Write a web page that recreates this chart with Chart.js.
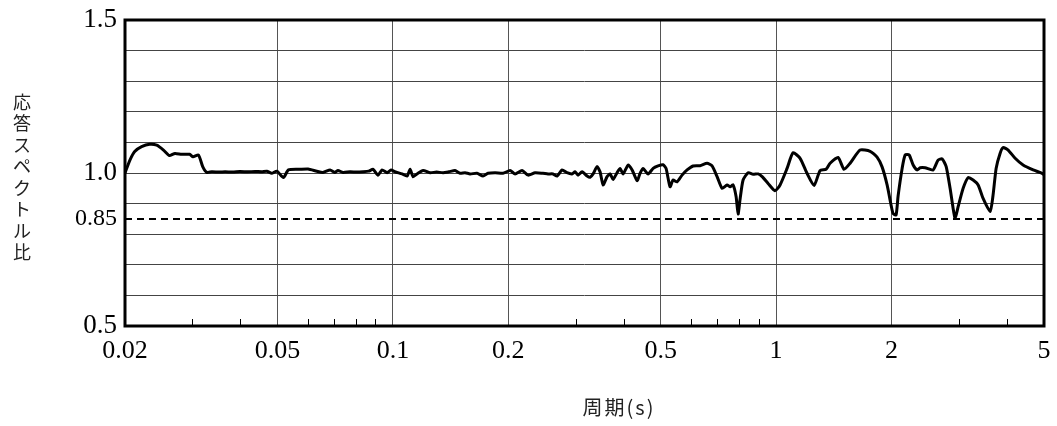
<!DOCTYPE html>
<html>
<head>
<meta charset="utf-8">
<script src="https://cdn.jsdelivr.net/npm/chart.js@4.4.1/dist/chart.umd.min.js"></script>
<style>
  html, body { margin: 0; padding: 0; background: #fff; }
  #wrap { width: 1057px; height: 426px; }
</style>
</head>
<body>
<div id="wrap"><canvas id="ratio-chart" width="1057" height="426"></canvas></div>
<script>
// period (s) and response spectrum ratio
const periods = [0.0200,0.0206,0.0212,0.0221,0.0232,0.0242,0.0252,0.0261,0.0270,0.0281,0.0295,0.0301,0.0311,0.0319,0.0327,0.0337,0.0352,0.0365,0.0382,0.0399,0.0418,0.0437,0.0455,0.0469,0.0483,0.0498,0.0518,0.0534,0.0572,0.0601,0.0633,0.0657,0.0686,0.0705,0.0719,0.0741,0.0773,0.0805,0.0836,0.0865,0.0888,0.0915,0.0937,0.0966,0.0989,0.1013,0.1057,0.1089,0.1109,0.1129,0.1156,0.1199,0.1250,0.1300,0.1352,0.1400,0.1453,0.1497,0.1543,0.1590,0.1658,0.1719,0.1771,0.1848,0.1938,0.2022,0.2084,0.2173,0.2254,0.2350,0.2464,0.2540,0.2618,0.2682,0.2764,0.2846,0.2934,0.2988,0.3042,0.3116,0.3212,0.3270,0.3330,0.3410,0.3472,0.3536,0.3622,0.3688,0.3754,0.3846,0.3916,0.3988,0.4110,0.4210,0.4338,0.4416,0.4496,0.4634,0.4776,0.4920,0.5070,0.5162,0.5286,0.5384,0.5514,0.5682,0.5858,0.6072,0.6332,0.6604,0.6806,0.7014,0.7228,0.7448,0.7584,0.7722,0.7862,0.7958,0.8054,0.8200,0.8452,0.8710,0.8976,0.9194,0.9528,0.9936,1.024,1.068,1.107,1.155,1.204,1.256,1.302,1.350,1.383,1.451,1.504,1.560,1.656,1.759,1.834,1.890,1.948,1.995,2.019,2.056,2.081,2.132,2.171,2.224,2.278,2.333,2.376,2.448,2.568,2.646,2.712,2.778,2.844,2.896,2.932,2.984,3.076,3.170,3.266,3.366,3.468,3.618,3.682,3.750,3.840,3.910,4.030,4.204,4.410,4.684,4.944,5.000];
const ratios = [1.000,1.042,1.070,1.086,1.094,1.091,1.075,1.057,1.064,1.061,1.061,1.053,1.059,1.021,1.002,1.004,1.003,1.004,1.003,1.005,1.004,1.005,1.004,1.006,0.999,1.006,0.985,1.010,1.012,1.013,1.006,1.002,1.010,1.002,1.008,1.002,1.004,1.003,1.004,1.006,1.012,0.993,1.010,1.001,1.010,1.004,0.997,0.990,1.012,0.988,0.997,1.008,1.001,1.003,1.001,1.004,1.008,0.999,1.001,0.997,0.999,0.990,0.999,1.001,0.999,1.008,0.997,1.008,0.993,1.001,0.999,0.997,0.997,0.990,1.010,1.001,0.997,1.004,0.993,1.004,0.990,0.986,0.997,1.021,1.004,0.961,0.988,0.997,0.979,1.001,1.015,0.997,1.026,1.010,0.975,0.999,1.015,0.997,1.015,1.023,1.027,1.015,0.955,0.977,0.971,0.993,1.010,1.023,1.024,1.032,1.023,0.988,0.950,0.961,0.955,0.961,0.923,0.866,0.915,0.977,1.001,0.996,0.997,0.988,0.966,0.942,0.961,1.015,1.066,1.048,0.999,0.959,1.008,1.012,1.032,1.051,1.012,1.032,1.075,1.071,1.052,1.020,0.961,0.895,0.868,0.863,0.925,1.015,1.059,1.059,1.026,1.010,1.017,1.017,1.010,1.042,1.046,1.021,0.950,0.885,0.852,0.889,0.950,0.985,0.977,0.961,0.917,0.874,0.928,1.015,1.064,1.083,1.075,1.048,1.026,1.010,0.999,0.994];

// 0.85 reference line
const refPeriods = [0.02, 5];
const refRatio = 0.85;

// axis ticks
const xTickValues = [0.02, 0.05, 0.1, 0.2, 0.5, 1, 2, 5];
const xTickTexts = ['0.02', '0.05', '0.1', '0.2', '0.5', '1', '2', '5'];
const xMinorTicks = [0.03, 0.04, 0.06, 0.07, 0.08, 0.09, 0.3, 0.4, 0.6, 0.7, 0.8, 0.9, 3, 4];
const yGridValues = [0.5, 0.6, 0.7, 0.8, 0.85, 0.9, 1.0, 1.1, 1.2, 1.3, 1.4, 1.5];
const yLabelValues = [0.5, 0.85, 1.0, 1.5];
const yLabelTexts = ['0.5', '0.85', '1.0', '1.5'];

const yTitle = '応答スペクトル比';
const xTitle = '周期(s)';

const serif = "'Liberation Serif', 'DejaVu Serif', serif";
const jpFont = "'Noto Sans CJK JP', sans-serif";

function near(a, b) {
  return Math.abs(a - b) < 1e-6;
}

// frame, minor ticks and the two titles
const decorations = {
  id: 'decorations',
  afterDraw(chart) {
    const ctx = chart.ctx;
    const area = chart.chartArea;
    const xs = chart.scales.x;
    ctx.save();

    ctx.strokeStyle = '#000';
    ctx.lineWidth = 1;
    ctx.beginPath();
    xMinorTicks.forEach(function(v) {
      const px = Math.round(xs.getPixelForValue(v)) + 0.5;
      ctx.moveTo(px, area.bottom);
      ctx.lineTo(px, area.bottom - 7);
    });
    ctx.stroke();

    ctx.lineWidth = 3;
    ctx.strokeRect(area.left, area.top, area.right - area.left, area.bottom - area.top);

    ctx.fillStyle = '#222';
    ctx.font = '18px ' + jpFont;
    ctx.textAlign = 'center';
    ctx.textBaseline = 'middle';
    const chars = Array.from(yTitle);
    for (let i = 0; i < chars.length; i++) {
      ctx.fillText(chars[i], 22, 102 + i * 21.5);
    }

    ctx.font = '20px ' + jpFont;
    ctx.letterSpacing = '2px';
    ctx.fillText(xTitle, 619, 407);
    ctx.letterSpacing = '0px';
    ctx.restore();
  }
};

const points = periods.map(function(p, i) { return { x: p, y: ratios[i] }; });
const refPoints = refPeriods.map(function(p) { return { x: p, y: refRatio }; });

new Chart(document.getElementById('ratio-chart'), {
  type: 'line',
  data: {
    datasets: [{
      label: 'ratio',
      data: points,
      borderColor: '#000',
      borderWidth: 3,
      pointRadius: 0,
      tension: 0.2,
      fill: false
    }, {
      label: '0.85',
      data: refPoints,
      borderColor: '#000',
      borderWidth: 2,
      borderDash: [7, 5],
      pointRadius: 0,
      fill: false
    }]
  },
  options: {
    responsive: false,
    animation: false,
    events: [],
    layout: { padding: { top: 20, right: 13, left: 0, bottom: 0 } },
    plugins: {
      legend: { display: false },
      tooltip: { enabled: false }
    },
    scales: {
      x: {
        type: 'logarithmic',
        min: 0.02,
        max: 5,
        afterBuildTicks: function(scale) {
          scale.ticks = xTickValues.map(function(v) { return { value: v }; });
        },
        afterFit: function(scale) {
          scale.height = 100;
        },
        ticks: {
          autoSkip: false,
          maxRotation: 0,
          padding: 6.5,
          color: '#000',
          font: { family: serif, size: 26 },
          callback: function(value, index) {
            return xTickTexts[index];
          }
        },
        grid: {
          drawTicks: true,
          tickLength: 3.5,
          tickColor: 'rgba(0,0,0,0)',
          color: '#555',
          lineWidth: 1
        },
        border: { display: false }
      },
      y: {
        type: 'linear',
        min: 0.5,
        max: 1.5,
        afterBuildTicks: function(scale) {
          scale.ticks = yGridValues.map(function(v) { return { value: v }; });
        },
        afterFit: function(scale) {
          scale.width = 125;
        },
        ticks: {
          autoSkip: false,
          padding: 8,
          color: '#000',
          font: function(c) {
            const v = c.tick ? c.tick.value : 0;
            return { family: serif, size: near(v, 0.85) ? 24 : 27, lineHeight: 0.85 };
          },
          callback: function(value) {
            for (let i = 0; i < yLabelValues.length; i++) {
              if (near(value, yLabelValues[i])) return yLabelTexts[i];
            }
            return '';
          }
        },
        grid: {
          drawTicks: false,
          lineWidth: 1,
          color: function(c) {
            return c.tick && near(c.tick.value, 0.85) ? 'rgba(0,0,0,0)' : '#444';
          }
        },
        border: { display: false }
      }
    }
  },
  plugins: [decorations]
});
</script>
</body>
</html>
